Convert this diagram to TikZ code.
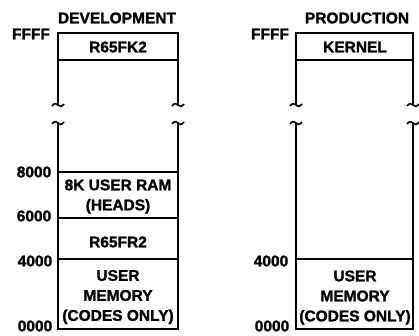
\documentclass[tikz,border=0pt]{standalone}
\usepackage{fontspec}
\setmainfont{Liberation Sans}[BoldFeatures={FakeBold=1.5}]
\begin{document}
\begin{tikzpicture}[x=1pt,y=-1pt,
  lbl/.style={font=\fontsize{15.5}{20}\selectfont\bfseries, inner sep=0pt, align=center},
  boxline/.style={line width=2pt},
  divline/.style={line width=1.6pt},
  brk/.style={line width=1.6pt}]
\useasboundingbox (0,0) rectangle (419,335);
% tilde helpers
\def\tildeup#1#2{\draw[brk] (#1-6,#2+1) .. controls (#1-4,#2-2) and (#1-1,#2-2) .. (#1,#2) .. controls (#1+1,#2+2) and (#1+4,#2+2) .. (#1+6,#2-1);}
% ---------- DEVELOPMENT ----------
\coordinate (dtl) at (58,33);
\coordinate (dtr) at (178,33);
\coordinate (dul) at (58,105);
\coordinate (dur) at (178,105);
\coordinate (dll) at (58,123);
\coordinate (dlr) at (178,123);
\coordinate (dbl) at (58,329);
\coordinate (dbr) at (178,329);
\draw[boxline] (dul) -- (dtl) -- (dtr) -- (dur);
\draw[boxline] (dll) -- (dbl) -- (dbr) -- (dlr);
\tildeup{58}{105}
\tildeup{178}{105}
\tildeup{58}{123}
\tildeup{178}{123}
\draw[divline] (58,60) -- (178,60);
\draw[divline] (58,172) -- (178,172);
\draw[divline] (58,218) -- (178,218);
\draw[divline] (58,259) -- (178,259);
\node[lbl] (devt) at (117,18) {DEVELOPMENT};
\node[lbl] (dffff) at (31,34) {FFFF};
\node[lbl] (d8000) at (34,172) {8000};
\node[lbl] (d6000) at (34,216) {6000};
\node[lbl] (d4000) at (35,261) {4000};
\node[lbl] (d0000) at (35,326) {0000};
\node[lbl] (fk2) at (118,47) {R65FK2};
\node[lbl] (ram) at (118,196.5) {8K USER RAM\\(HEADS)};
\node[lbl] (fr2) at (118,242) {R65FR2};
\node[lbl] (dum) at (118,297) {USER\\MEMORY\\(CODES ONLY)};
% ---------- PRODUCTION ----------
\coordinate (ptl) at (296,33);
\coordinate (ptr) at (413,33);
\coordinate (pul) at (296,105);
\coordinate (pur) at (413,105);
\coordinate (pll) at (296,123);
\coordinate (plr) at (413,123);
\coordinate (pbl) at (296,329);
\coordinate (pbr) at (413,329);
\draw[boxline] (pul) -- (ptl) -- (ptr) -- (pur);
\draw[boxline] (pll) -- (pbl) -- (pbr) -- (plr);
\tildeup{296}{105}
\tildeup{413}{105}
\tildeup{296}{123}
\tildeup{413}{123}
\draw[divline] (296,60) -- (413,60);
\draw[divline] (296,259) -- (413,259);
\node[lbl] (prodt) at (357,18) {PRODUCTION};
\node[lbl] (pffff) at (270,34) {FFFF};
\node[lbl] (p4000) at (271,261) {4000};
\node[lbl] (p0000) at (272,326) {0000};
\node[lbl] (kern) at (355,47) {KERNEL};
\node[lbl] (pum) at (355,297.5) {USER\\MEMORY\\(CODES ONLY)};
\end{tikzpicture}
\end{document}
